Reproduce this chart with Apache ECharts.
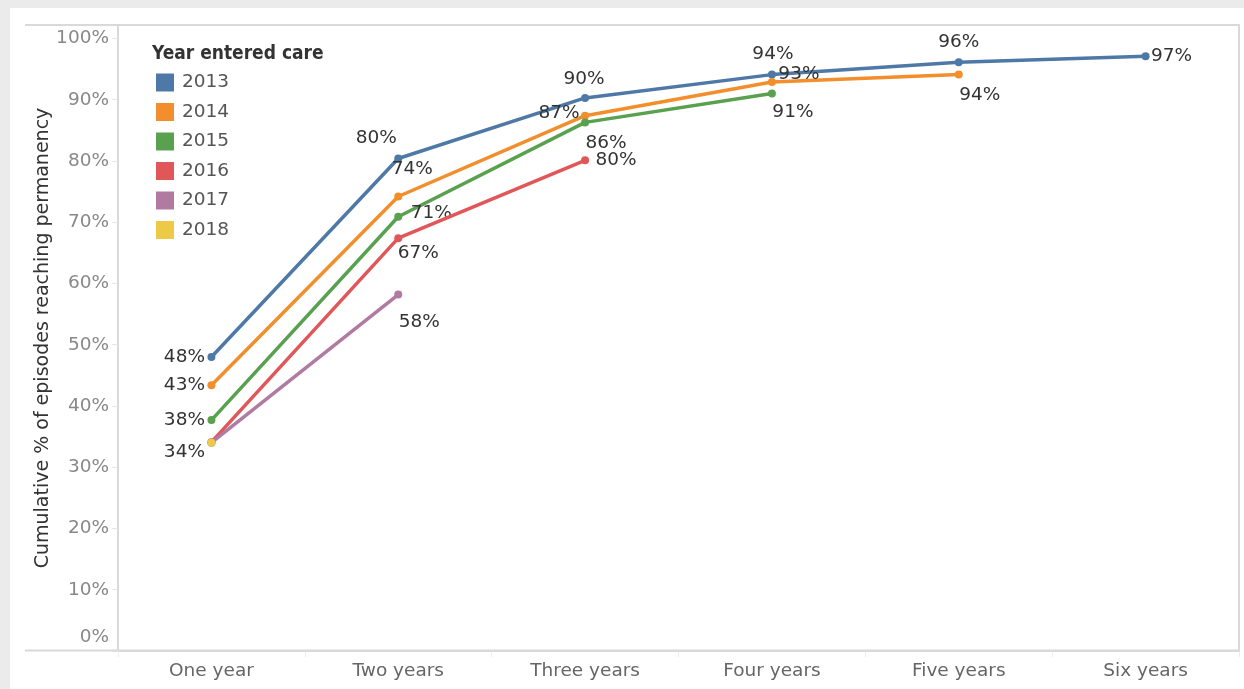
<!DOCTYPE html>
<html>
<head>
<meta charset="utf-8">
<script src="https://cdn.jsdelivr.net/npm/echarts@6/dist/echarts.min.js"></script>
<style>
html,body{margin:0;padding:0;background:#ebebeb;}
#chart{width:1244px;height:689px;}
</style>
</head>
<body>
<div id="chart"></div>
<script>
// ---- data ----
const categories = ['One year', 'Two years', 'Three years', 'Four years', 'Five years', 'Six years'];
const years = ['2013', '2014', '2015', '2016', '2017', '2018'];
const v2013 = [48.0, 80.4, 90.3, 94.1, 96.1, 97.1];
const v2014 = [43.4, 74.2, 87.4, 92.9, 94.1];
const v2015 = [37.7, 70.9, 86.3, 91.0];
const v2016 = [34.1, 67.4, 80.1];
const v2017 = [34.0, 58.2];
const v2018 = [34.0];
const yTicks = [0, 10, 20, 30, 40, 50, 60, 70, 80, 90, 100];

// ---- styling (kept separate from values) ----
const colors = ['#4e79a7', '#f28e2b', '#59a14f', '#e15759', '#b07aa1', '#edc948'];
// label offsets (dx, dy) from each point; null = no label
const labelOffsets = [
  [[-27, 0], [-22, -20], [-1, -19], [1, -20], [0, -20], [26, 0]],
  [[-27, 0], [14, -27], [-26, -2], [27, -8], [21, 21]],
  [[-27, 0], [33, -4], [21, 21], [21, 19]],
  [null, [20, 15], [31, 0]],
  [null, [21, 28]],
  [[-27, 9]]
];
const FONT = '"DejaVu Sans", sans-serif';
const seriesValues = [v2013, v2014, v2015, v2016, v2017, v2018];

const series = years.map((y, i) => ({
  name: y,
  type: 'line',
  data: seriesValues[i].map((v, j) => ({
    value: v,
    label: { show: !!labelOffsets[i][j] }
  })),
  color: colors[i],
  lineStyle: { width: 3.5, color: colors[i] },
  itemStyle: { color: colors[i] },
  symbol: 'circle',
  symbolSize: 8,
  showSymbol: true,
  label: {
    position: 'inside',
    formatter: p => Math.round(p.value) + '%',
    color: '#333',
    fontSize: 18.5,
    fontFamily: FONT,
    align: 'center',
    verticalAlign: 'middle'
  },
  labelLayout: p => {
    const off = labelOffsets[i][p.dataIndex] || [0, 0];
    return { dx: off[0], dy: off[1], hideOverlap: false };
  },
  emphasis: { disabled: true },
  animation: false,
  z: 2 + i
}));

const chart = echarts.init(document.getElementById('chart'));
chart.setOption({
  backgroundColor: '#ebebeb',
  animation: false,
  graphic: [
    { type: 'rect', shape: { x: 10, y: 8, width: 1234, height: 681 }, style: { fill: '#ffffff' }, z: -10, silent: true },
    { type: 'line', shape: { x1: 25, y1: 25, x2: 1240, y2: 25 }, style: { stroke: '#d9d9d9', lineWidth: 2 }, z: 1, silent: true },
    { type: 'line', shape: { x1: 25, y1: 650.5, x2: 1240, y2: 650.5 }, style: { stroke: '#d9d9d9', lineWidth: 2 }, z: 1, silent: true },
    { type: 'line', shape: { x1: 1239, y1: 25, x2: 1239, y2: 651 }, style: { stroke: '#d9d9d9', lineWidth: 2 }, z: 1, silent: true }
  ],
  title: {
    text: 'Year entered care',
    left: 152,
    top: 45,
    padding: 0,
    textStyle: { fontFamily: '"DejaVu Sans Condensed", "DejaVu Sans", sans-serif', fontSize: 19, fontWeight: 'bold', color: '#333' }
  },
  legend: {
    data: years,
    orient: 'vertical',
    left: 156,
    top: 73,
    padding: 0,
    itemWidth: 18,
    itemHeight: 18,
    itemGap: 10.5,
    icon: 'rect',
    textStyle: { fontFamily: FONT, fontSize: 18.5, color: '#555', padding: [0, 0, 0, 3] },
    selectedMode: false
  },
  grid: { left: 118, right: 5, top: 25, bottom: 38, containLabel: false },
  xAxis: {
    type: 'category',
    data: categories,
    boundaryGap: true,
    axisLine: { show: true, lineStyle: { color: '#d9d9d9', width: 2 } },
    axisTick: { show: true, length: 6, lineStyle: { color: '#eeeeee' } },
    axisLabel: { fontFamily: FONT, fontSize: 18.5, color: '#666', margin: 11 }
  },
  yAxis: {
    type: 'value',
    min: 0,
    max: 102.2,
    interval: 10,
    name: 'Cumulative % of episodes reaching permanency',
    nameLocation: 'middle',
    nameGap: 65,
    nameMoveOverlap: false,
    nameTextStyle: { fontFamily: FONT, fontSize: 19, color: '#333' },
    axisLine: { show: true, lineStyle: { color: '#d9d9d9', width: 2 } },
    axisTick: { show: true, length: 6, lineStyle: { color: '#e6e6e6' } },
    splitLine: { show: false },
    axisLabel: {
      fontFamily: FONT,
      fontSize: 18.5,
      color: '#888',
      margin: 9,
      formatter: v => {
        if (yTicks.indexOf(v) < 0) return '';
        if (v === 0) return '{z|0%}';
        return v + '%';
      },
      rich: {
        z: { fontFamily: FONT, fontSize: 18.5, color: '#888', padding: [0, 0, 28, 0] }
      }
    }
  },
  series: series
});
</script>
</body>
</html>
